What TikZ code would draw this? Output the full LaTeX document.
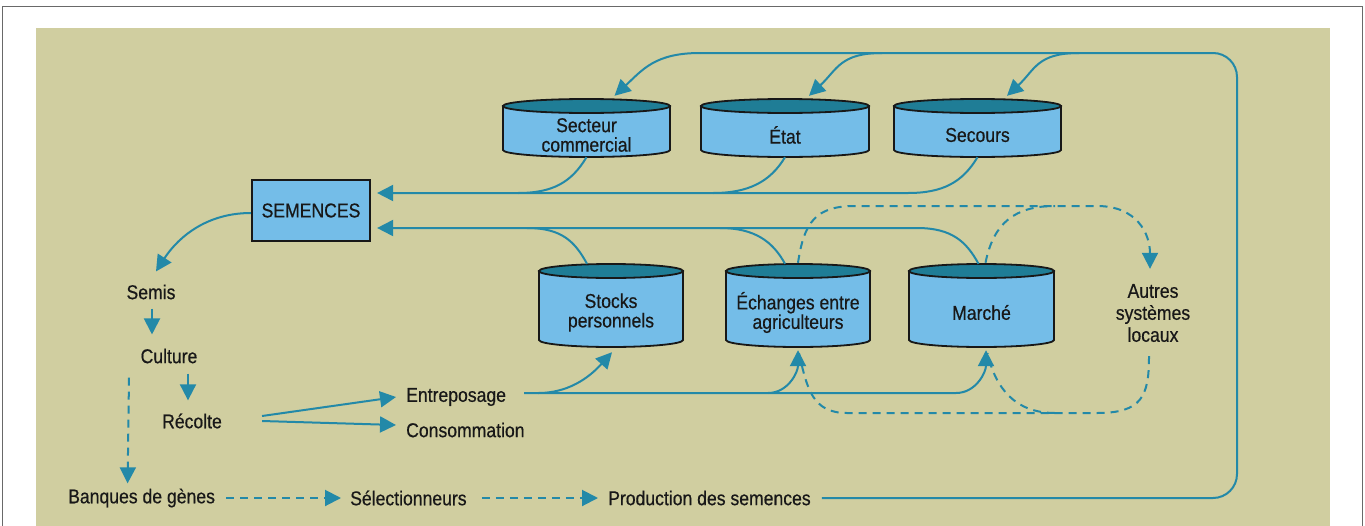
\documentclass[tikz,border=0pt]{standalone}
\usepackage{fontspec}
\setmainfont{Liberation Sans}[FakeStretch=0.88, FakeBold=0.5]
\usetikzlibrary{arrows.meta,calc}
\definecolor{beige}{RGB}{208,206,160}
\definecolor{cylblue}{RGB}{116,189,232}
\definecolor{cyldark}{RGB}{31,125,150}
\definecolor{linec}{RGB}{35,137,168}
\definecolor{ink}{RGB}{24,24,24}
\definecolor{framec}{RGB}{105,105,105}
% #1 name, #2 cx, #3 cy, #4 rx, #5 half height, #6 text
\newcommand{\mycyl}[6]{%
  \node[draw=none, inner sep=0pt, minimum width=2*#4, minimum height=2*#5] (#1) at (#2,#3) {};
  \filldraw[cylbody] (#2-#4,#3-#5+7) -- (#2-#4,#3+#5-7)
     arc[start angle=180, end angle=0, x radius=#4, y radius=7]
     -- (#2+#4,#3-#5+7) -- cycle;
  \filldraw[cyltop] (#2,#3-#5+7) ellipse[x radius=#4, y radius=7];
  \node[cyltext] (#1-t) at (#2,#3+7) {#6};
}
\begin{document}
\begin{tikzpicture}[x=1pt, y=-1pt,
  flow/.style={draw=linec, line width=2pt},
  dflow/.style={flow, dash pattern=on 8pt off 6pt},
  arr/.style={-{Triangle[length=16pt,width=16pt]}},
  txt/.style={inner sep=0pt, text=ink, font=\fontsize{20}{19.5}\selectfont},
  cyltext/.style={txt, align=center},
  cylbody/.style={fill=cylblue, draw=ink, line width=1.8pt},
  cyltop/.style={fill=cyldark, draw=ink, line width=1.8pt},
  semb/.style={txt, fill=cylblue, draw=ink, line width=2.2pt, minimum width=118pt, minimum height=61pt}
]
\useasboundingbox (0,0) rectangle (1365,525);
\fill[white] (0,0) rectangle (1365,525);
\draw[framec, line width=1.5pt] (2.5,540) -- (2.5,6.5) -- (1362.5,6.5) -- (1362.5,540);
\fill[beige] (36,28) rectangle (1330,530);

% cylinders
\mycyl{sect}{586.5}{128}{83.5}{29}{Secteur\\commercial}
\mycyl{etat}{785}{128}{84}{29}{État}
\mycyl{secours}{977.5}{128}{83.5}{29}{Secours}
\mycyl{stocks}{611}{305.5}{72}{41.5}{Stocks\\personnels}
\mycyl{echanges}{798}{305.5}{72}{41.5}{Échanges entre\\agriculteurs}
\mycyl{marche}{981.5}{305.5}{72.5}{41.5}{Marché}

% text nodes
\node[semb] (sem) at (311,210.5) {SEMENCES};
\node[txt] (semis) at (151,292) {Semis};
\node[txt] (culture) at (169,356) {Culture};
\node[txt] (recolte) at (192,421) {Récolte};
\node[txt, anchor=west] (entre) at (406,397) {Entreposage};
\node[txt, anchor=west] (conso) at (406,430) {Consommation};
\node[txt, anchor=west] (banques) at (68,498) {Banques de gènes};
\node[txt, anchor=west] (selec) at (350,498) {Sélectionneurs};
\node[txt, anchor=west] (prod) at (608,498) {Production des semences};
\node[txt, align=center, font=\fontsize{20}{22}\selectfont] (autres) at (1153,313) {Autres\\systèmes\\locaux};

% junction coordinates
\coordinate (rt) at (1237,53);
\coordinate (c1) at (700,53);
\coordinate (c2) at (882,53);
\coordinate (c3) at (1079,53);
\coordinate (j1) at (518,193);
\coordinate (j2) at (713,193);
\coordinate (j3) at (908,193);
\coordinate (k1) at (527,228);
\coordinate (k2) at (720,228);
\coordinate (k3) at (917,228);
\coordinate (eS) at ($(entre.east)+(18,-4)$);
\coordinate (m1) at (768,393);
\coordinate (m2) at (956,393);
\coordinate (d1) at (855,206);
\coordinate (d2) at (1097,206);
\coordinate (d3) at (1055,206);
\coordinate (e1) at (1097,413);
\coordinate (e2) at (847,413);
\coordinate (e3) at (1055,413);

% top loop from production
\draw[flow, rounded corners=24pt] ($(prod.east)+(11,0)$) -| (rt) -- (c1);
\draw[flow, arr] (c1) .. controls +(-45,0) and +(28,-26) .. ($(sect.north)+(28,-3)$);
\draw[flow, arr] (c2) .. controls +(-42,0) and +(28,-26) .. ($(etat.north)+(24,-3)$);
\draw[flow, arr] (c3) .. controls +(-42,0) and +(28,-26) .. ($(secours.north)+(29.5,-3)$);

% into SEMENCES, upper line
\draw[flow, arr] (secours.south) .. controls +(-15,25) and +(35,0) .. (j3) -- ($(sem.east)+(6,-17.5)$);
\draw[flow] (etat.south) .. controls +(-15,25) and +(35,0) .. (j2);
\draw[flow] (sect.south) .. controls +(-15,25) and +(35,0) .. (j1);

% into SEMENCES, lower line
\draw[flow, arr] ($(marche.north)+(-3,0)$) .. controls +(-12,-22) and +(35,0) .. (k3) -- ($(sem.east)+(6,17.5)$);
\draw[flow] ($(echanges.north)+(-13,0)$) .. controls +(-12,-22) and +(35,0) .. (k2);
\draw[flow] ($(stocks.north)+(-24,0)$) .. controls +(-12,-22) and +(35,0) .. (k1);

% SEMENCES to Semis and the cycle
\draw[flow, arr] ($(sem.west)+(0,2.5)$) .. controls +(-50,0) and +(18,-28) .. ($(semis.north)+(5,-13)$);
\draw[flow, arr] ($(semis.south)+(1,9)$) -- ($(culture.north)+(-17,-14)$);
\draw[flow, arr] ($(culture.south)+(19,10)$) -- ($(recolte.north)+(-4,-13)$);
\draw[dflow, arr] ($(culture.south)+(-40,14)$) -- ($(banques.north)+(-14,-5)$);
\draw[dflow, arr] ($(banques.east)+(11,0)$) -- ($(selec.west)+(-9,0)$);
\draw[dflow, arr] ($(selec.east)+(15,0)$) -- ($(prod.west)+(-10,0)$);

% harvest
\draw[flow, arr] ($(recolte.east)+(40,-5)$) -- ($(entre.west)+(-10,0)$);
\draw[flow, arr] ($(recolte.east)+(40,0)$) -- ($(conso.west)+(-10,-5)$);

% storage line to cylinders
\draw[flow, arr] (eS) -- (m2) .. controls +(20,0) and +(0,22) .. ($(marche.south)+(4.5,3)$);
\draw[flow, arr] (m1) .. controls +(20,0) and +(0,22) .. ($(echanges.south)+(0,3)$);
\draw[flow, arr] ($(eS)+(14,0)$) .. controls +(35,0) and +(-18,20) .. ($(stocks.south)+(1,5)$);

% dashed exchanges with other local systems
\draw[dflow, arr] ($(echanges.north)+(0,-1)$) .. controls +(6,-40) and +(-40,0) .. (d1) -- (d2)
   .. controls +(40,0) and +(0,-35) .. ($(autres.north)+(-3,-15)$);
\draw[dflow] ($(marche.north)+(4,-1)$) .. controls +(8,-40) and +(-40,0) .. (d3);
\draw[dflow] ($(autres.south)+(-4,14)$) .. controls +(0,40) and +(45,0) .. (e1) -- (e2)
   .. controls +(-35,0) and +(8,35) .. ($(echanges.south)+(1,6)$);
\draw[dflow] (e3) .. controls +(-40,0) and +(8,35) .. ($(marche.south)+(6,6)$);
\end{tikzpicture}
\end{document}
